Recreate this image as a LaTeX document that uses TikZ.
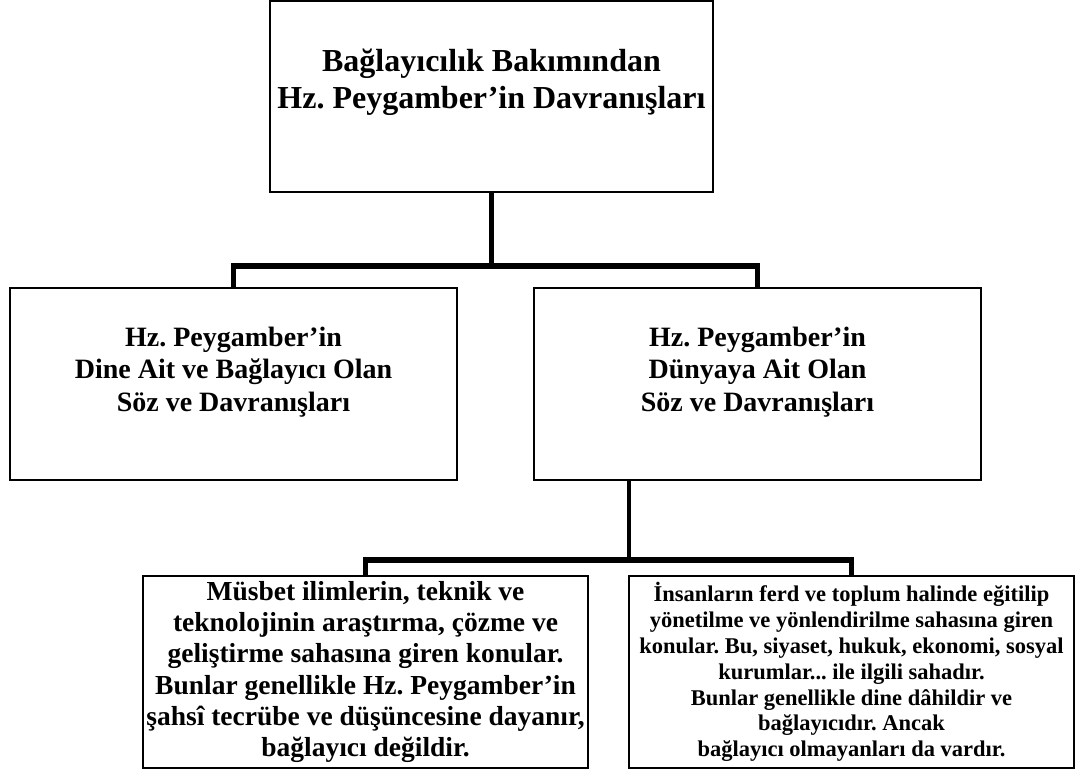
\documentclass[tikz,border=0pt]{standalone}
\usepackage{fontspec}
\setmainfont{Liberation Serif}
\usetikzlibrary{positioning}

\begin{document}
\frenchspacing
\begin{tikzpicture}[x=1pt,y=-1pt,
	box/.style={draw,line width=1.6pt,inner sep=0pt},
	stem/.style={line width=4.5pt},
	bar/.style={line width=6pt,shorten <=-2.25pt,shorten >=-2.25pt},
	titletext/.style={align=center,font=\bfseries\fontsize{32}{37}\selectfont},
	midtext/.style={align=center,font=\bfseries\fontsize{28}{32.5}\selectfont}]
	\useasboundingbox (0,0) rectangle (1076,773);
	% top
	\node[box,minimum width=443pt,minimum height=191pt] (bag) at (491.5,96.5) {};
	\node[titletext] (bagtxt) at ([yshift=14pt]bag.center) {Bağlayıcılık Bakımından\\Hz. Peygamber’in Davranışları};
	% second row
	\node[box,minimum width=447pt,minimum height=192pt] (dine) at (233.5,384) {};
	\node[midtext] (dinetxt) at ([yshift=12pt]dine.center) {Hz. Peygamber’in\\Dine Ait ve Bağlayıcı Olan\\Söz ve Davranışları};
	\node[box,minimum width=447pt,minimum height=192pt] (dunya) at (757.5,384) {};
	\node[midtext] (dunyatxt) at ([yshift=12pt]dunya.center) {Hz. Peygamber’in\\Dünyaya Ait Olan\\Söz ve Davranışları};
	% third row
	\node[box,minimum width=445pt,minimum height=192pt,align=center,
		font=\bfseries\fontsize{27.5}{31.2}\selectfont] (musbet) at (365.5,672)
		{Müsbet ilimlerin, teknik ve\\teknolojinin araştırma, çözme ve\\geliştirme sahasına giren konular.\\Bunlar genellikle Hz. Peygamber’in\\şahsî tecrübe ve düşüncesine dayanır,\\bağlayıcı değildir.};
	\node[box,minimum width=445pt,minimum height=192pt,align=center,
		font=\bfseries\fontsize{22.5}{25.9}\selectfont] (insan) at (851.5,672)
		{İnsanların ferd ve toplum halinde eğitilip\\yönetilme ve yönlendirilme sahasına giren\\konular. Bu, siyaset, hukuk, ekonomi, sosyal\\kurumlar... ile ilgili sahadır.\\Bunlar genellikle dine dâhildir ve\\bağlayıcıdır. Ancak\\bağlayıcı olmayanları da vardır.};
	% connectors
	\coordinate (j1) at (491.5,266);
	\coordinate (j2) at (629,560);
	\draw[stem] (bag.south) -- (j1);
	\draw[stem] (dine.north) -- (dine.north |- j1);
	\draw[stem] (dunya.north) -- (dunya.north |- j1);
	\draw[bar] (dine.north |- j1) -- (dunya.north |- j1);
	\draw[stem] (dunya.south -| j2) -- (j2);
	\draw[stem] (musbet.north) -- (musbet.north |- j2);
	\draw[stem] (insan.north) -- (insan.north |- j2);
	\draw[bar] (musbet.north |- j2) -- (insan.north |- j2);
\end{tikzpicture}
\end{document}
